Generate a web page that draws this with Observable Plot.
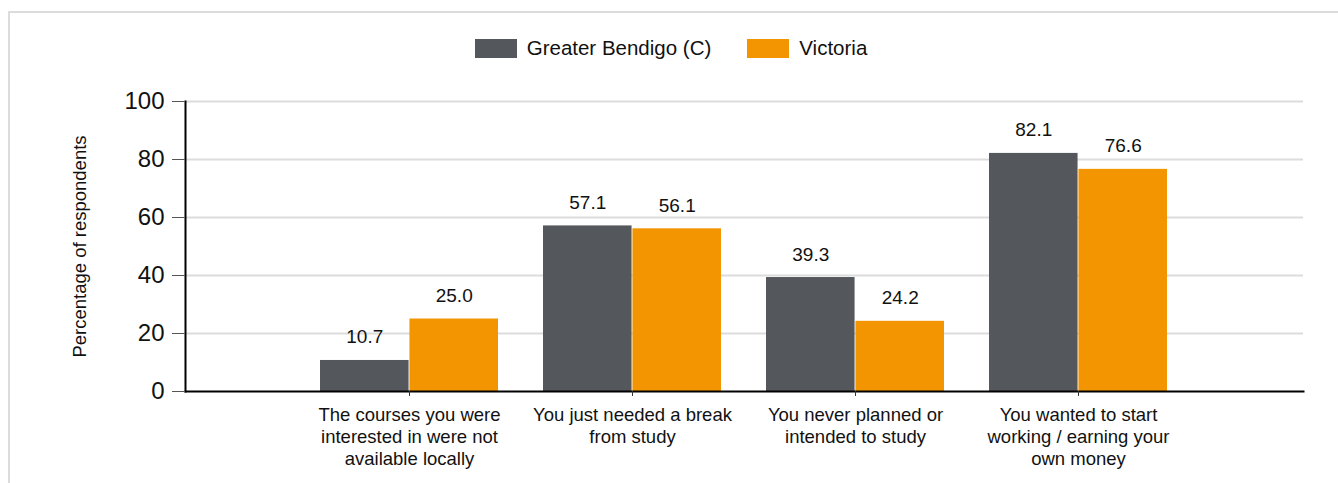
<!DOCTYPE html>
<html>
<head>
<meta charset="utf-8">
<script src="https://cdn.jsdelivr.net/npm/d3@7"></script>
<script src="https://cdn.jsdelivr.net/npm/@observablehq/plot@0.6"></script>
<style>
  html, body { margin: 0; padding: 0; background: #fff; }
  body { width: 1338px; height: 483px; overflow: hidden; position: relative; font-family: "Liberation Sans", Arial, sans-serif; }
  #frame { position: absolute; left: 8px; top: 11px; width: 1400px; height: 600px; border-left: 2px solid #dcdcdc; border-top: 2px solid #dcdcdc; }
  #legend { position: absolute; top: 36px; left: 2px; width: 1338px; display: flex; justify-content: center; align-items: center; font-size: 20.5px; color: #111; }
  .item { display: flex; align-items: center; margin: 0 18px; }
  .sw { width: 42px; height: 19px; margin-right: 10px; }
  #chart { position: absolute; left: 0; top: 80px; }
</style>
</head>
<body>
<div id="frame"></div>
<div id="legend"></div>
<div id="chart"></div>
<script>
const categories = ["courses", "break", "never", "working"];
const categoryLabels = [
  "The courses you were\ninterested in were not\navailable locally",
  "You just needed a break\nfrom study",
  "You never planned or\nintended to study",
  "You wanted to start\nworking / earning your\nown money"
];
const seriesNames = ["Greater Bendigo (C)", "Victoria"];
const seriesColors = ["#54575b", "#f39500"];
const bendigo = [10.7, 57.1, 39.3, 82.1];
const victoria = [25.0, 56.1, 24.2, 76.6];
const yTicks = [0, 20, 40, 60, 80, 100];
const yLabel = "Percentage of respondents";

// legend
const legend = document.getElementById("legend");
seriesNames.forEach((name, i) => {
  const item = document.createElement("div");
  item.className = "item";
  const sw = document.createElement("div");
  sw.className = "sw";
  sw.style.background = seriesColors[i];
  const t = document.createElement("span");
  t.textContent = name;
  item.appendChild(sw);
  item.appendChild(t);
  legend.appendChild(item);
});

const rowsB = categories.map((c, i) => ({category: c, value: bendigo[i], label: categoryLabels[i]}));
const rowsV = categories.map((c, i) => ({category: c, value: victoria[i], label: categoryLabels[i]}));

const width = 1338, marginLeft = 185, marginRight = 35;
const paddingInner = 0.2, paddingOuter = 0.6;
const step = (width - marginLeft - marginRight) / (categories.length - paddingInner + 2 * paddingOuter);
const half = step * (1 - paddingInner) / 2;

const chart = Plot.plot({
  width,
  height: 403,
  marginLeft,
  marginRight,
  marginTop: 21,
  marginBottom: 92,
  style: {fontFamily: "'Liberation Sans', Arial, sans-serif", background: "transparent", color: "#111"},
  x: {domain: categories, paddingInner, paddingOuter, label: null},
  y: {domain: [0, 100], label: null},
  marks: [
    Plot.gridY(yTicks.filter(d => d > 0), {stroke: "#dcdcdc", strokeOpacity: 1, strokeWidth: 2}),
    Plot.barY(rowsB, {x: "category", y: "value", fill: seriesColors[0], insetRight: half, insetLeft: 0}),
    Plot.barY(rowsV, {x: "category", y: "value", fill: seriesColors[1], insetLeft: half, insetRight: 0}),
    Plot.text(rowsB, {x: "category", y: "value", text: d => d.value.toFixed(1), dx: -half / 2, dy: -17, lineAnchor: "bottom", fontSize: 19, fill: "#111"}),
    Plot.text(rowsV, {x: "category", y: "value", text: d => d.value.toFixed(1), dx: half / 2, dy: -17, lineAnchor: "bottom", fontSize: 19, fill: "#111"}),
    Plot.frame({anchor: "left", stroke: "#000", strokeWidth: 2}),
    Plot.frame({anchor: "bottom", stroke: "#000", strokeWidth: 2}),
    Plot.axisY({ticks: yTicks, tickSize: 13, tickPadding: 8, fontSize: 24, label: null, stroke: "#555"}),
    Plot.axisX({tickSize: 5, tickFormat: () => "", label: null, stroke: "#333"}),
    Plot.text(rowsB, {x: "category", text: "label", frameAnchor: "bottom", lineAnchor: "top", dy: 14, fontSize: 18.5, lineHeight: 1.19, fill: "#111"}),
    Plot.text([yLabel], {text: d => d, frameAnchor: "left", textAnchor: "middle", rotate: -90, dx: -105, fontSize: 18.5, fill: "#111"})
  ]
});
document.getElementById("chart").appendChild(chart);
</script>
</body>
</html>
